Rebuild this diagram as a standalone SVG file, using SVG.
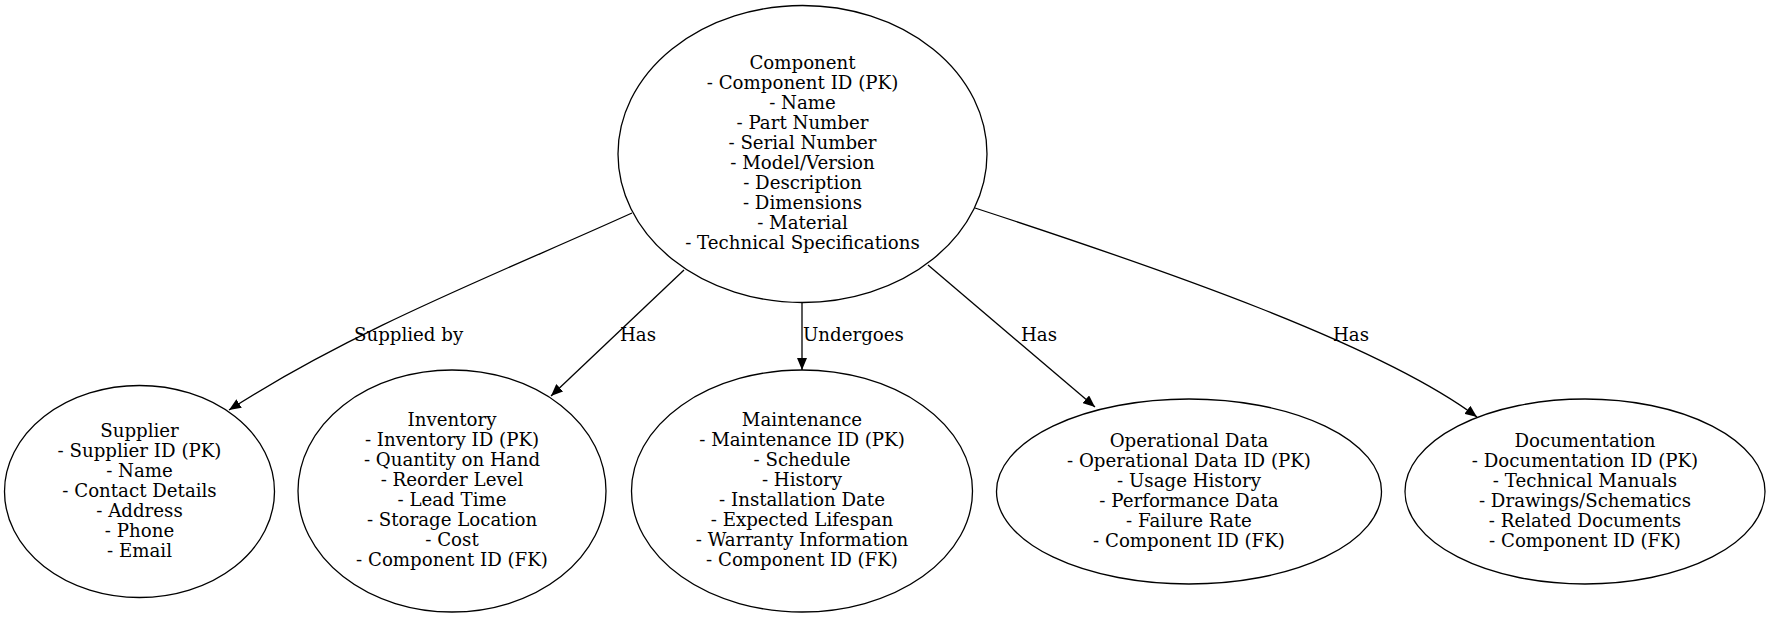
<svg xmlns="http://www.w3.org/2000/svg" width="1771" height="618" viewBox="0 0 1771 618">
<style>
.n ellipse{fill:none;stroke:#000;stroke-width:1.3}
text{font-family:"DejaVu Serif","Liberation Serif",serif;font-size:18.2px;fill:#000;text-anchor:middle}
.e path{fill:none;stroke:#000;stroke-width:1.3}
.l{text-anchor:start}
</style>
<defs>
<marker id="ah" markerWidth="12" markerHeight="10" refX="12" refY="5" orient="auto" markerUnits="userSpaceOnUse">
<path d="M0,0 L12,5 L0,10 Z" fill="#000"/>
</marker>
</defs>
<g id="component" class="n">
<ellipse cx="802.5" cy="154" rx="184.5" ry="148.5"/>
<text x="802.5" y="69">Component</text>
<text x="802.5" y="89">- Component ID (PK)</text>
<text x="802.5" y="109">- Name</text>
<text x="802.5" y="129">- Part Number</text>
<text x="802.5" y="149">- Serial Number</text>
<text x="802.5" y="169">- Model/Version</text>
<text x="802.5" y="189">- Description</text>
<text x="802.5" y="209">- Dimensions</text>
<text x="802.5" y="229">- Material</text>
<text x="802.5" y="249">- Technical Specifications</text>
</g>
<g id="supplier" class="n">
<ellipse cx="139.5" cy="491.5" rx="135" ry="106"/>
<text x="139.5" y="436.5">Supplier</text>
<text x="139.5" y="456.5">- Supplier ID (PK)</text>
<text x="139.5" y="476.5">- Name</text>
<text x="139.5" y="496.5">- Contact Details</text>
<text x="139.5" y="516.5">- Address</text>
<text x="139.5" y="536.5">- Phone</text>
<text x="139.5" y="556.5">- Email</text>
</g>
<g id="inventory" class="n">
<ellipse cx="452" cy="491" rx="154" ry="121"/>
<text x="452" y="426">Inventory</text>
<text x="452" y="446">- Inventory ID (PK)</text>
<text x="452" y="466">- Quantity on Hand</text>
<text x="452" y="486">- Reorder Level</text>
<text x="452" y="506">- Lead Time</text>
<text x="452" y="526">- Storage Location</text>
<text x="452" y="546">- Cost</text>
<text x="452" y="566">- Component ID (FK)</text>
</g>
<g id="maintenance" class="n">
<ellipse cx="802" cy="491" rx="170.5" ry="121"/>
<text x="802" y="426">Maintenance</text>
<text x="802" y="446">- Maintenance ID (PK)</text>
<text x="802" y="466">- Schedule</text>
<text x="802" y="486">- History</text>
<text x="802" y="506">- Installation Date</text>
<text x="802" y="526">- Expected Lifespan</text>
<text x="802" y="546">- Warranty Information</text>
<text x="802" y="566">- Component ID (FK)</text>
</g>
<g id="operational" class="n">
<ellipse cx="1189" cy="491.5" rx="192.5" ry="92.5"/>
<text x="1189" y="446.5">Operational Data</text>
<text x="1189" y="466.5">- Operational Data ID (PK)</text>
<text x="1189" y="486.5">- Usage History</text>
<text x="1189" y="506.5">- Performance Data</text>
<text x="1189" y="526.5">- Failure Rate</text>
<text x="1189" y="546.5">- Component ID (FK)</text>
</g>
<g id="documentation" class="n">
<ellipse cx="1585" cy="491.5" rx="180" ry="92.5"/>
<text x="1585" y="446.5">Documentation</text>
<text x="1585" y="466.5">- Documentation ID (PK)</text>
<text x="1585" y="486.5">- Technical Manuals</text>
<text x="1585" y="506.5">- Drawings/Schematics</text>
<text x="1585" y="526.5">- Related Documents</text>
<text x="1585" y="546.5">- Component ID (FK)</text>
</g>
<g id="edges" class="e">
<path d="M632,213 C495,275 355,329 229,410" marker-end="url(#ah)"/>
<path d="M684,270 L551,396" marker-end="url(#ah)"/>
<path d="M802,303 L802,370" marker-end="url(#ah)"/>
<path d="M928,265 L1095,407" marker-end="url(#ah)"/>
<path d="M975,208 C1165,270 1381,345 1477,417" marker-end="url(#ah)"/>
<text class="l" x="354" y="341">Supplied by</text>
<text class="l" x="620" y="341">Has</text>
<text class="l" x="803" y="341">Undergoes</text>
<text class="l" x="1021" y="341">Has</text>
<text class="l" x="1333" y="341">Has</text>
</g>
</svg>
